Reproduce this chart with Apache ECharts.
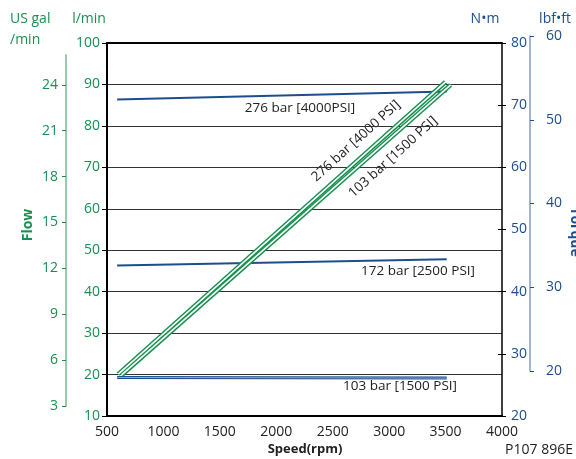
<!DOCTYPE html>
<html>
<head>
<meta charset="utf-8">
<script src="https://cdn.jsdelivr.net/npm/echarts@6/dist/echarts.min.js"></script>
<style>
  html, body { margin: 0; padding: 0; background: #fff; }
  #chart { width: 576px; height: 459px; }
</style>
</head>
<body>
<div id="chart"></div>
<script>
var chart = echarts.init(document.getElementById("chart"));

var green = "#17904f"; //flow colour
var blue = "#1d4d8c"; //torque colour
var font = "'Open Sans', 'Noto Sans', sans-serif";

var speedTicks = [500, 4000, 500]; //min, max, step
var flowTicks = [10, 100, 10]; //l/min
var galTicks = [3, 6, 9, 12, 15, 18, 21, 24]; //US gal/min
var nmTicks = [20, 80, 10]; //N·m
var lbfTicks = [20, 60, 10]; //lbf·ft

//flow curves (rpm, l/min)
var flow276 = [[600, 20.1], [3500, 90.6]];
var flow103 = [[630, 19.9], [3545, 89.9]];

//torque curves (rpm, N·m)
var torque276 = [[590, 70.9], [3510, 72.2]];
var torque172 = [[590, 44.2], [3510, 45.2]];
var torque103 = [[590, 26.2], [3510, 26.1]];

function lineSeries (name, data, yIdx, color, width) {
  return {
    name: name, type: "line", data: data,
    xAxisIndex: 0, yAxisIndex: yIdx,
    symbol: "none", silent: true,
    lineStyle: { color: color, width: width }
  };
}

function txt (text, x, y, opt) {
  opt = opt || {};
  return {
    type: "text", x: x, y: y, rotation: opt.rot || 0, silent: true,
    style: {
      text: text, fill: opt.color || "#222",
      font: (opt.bold ? "bold " : "") + (opt.size || 14) + "px " + font,
      textAlign: opt.align || "center", align: opt.align || "center",
      textVerticalAlign: "middle", verticalAlign: "middle"
    }
  };
}

var option = {
  animation: false,
  backgroundColor: "#fff",
  grid: [
    { left: 107, right: 74, top: 43, bottom: 43, outerBoundsMode: "none" },
    { left: 66, width: 8, top: 55, bottom: 53, outerBoundsMode: "none" },
    { left: 530, width: 7, top: 36, bottom: 88, outerBoundsMode: "none" }
  ],
  xAxis: [
    {
      type: "value", gridIndex: 0, min: speedTicks[0], max: speedTicks[1], interval: speedTicks[2],
      axisLine: { lineStyle: { color: "#000", width: 2 } },
      axisTick: { show: false },
      splitLine: { show: false },
      axisLabel: { color: "#222", fontSize: 14, fontFamily: font, margin: 9,
        formatter: function (v) { return String(v); } }
    },
    {
      type: "value", gridIndex: 0, position: "top", min: speedTicks[0], max: speedTicks[1],
      axisLine: { lineStyle: { color: "#000", width: 2 } },
      axisTick: { show: false }, axisLabel: { show: false }, splitLine: { show: false }
    },
    { type: "value", gridIndex: 1, show: false },
    { type: "value", gridIndex: 2, show: false }
  ],
  yAxis: [
    {
      type: "value", gridIndex: 0, position: "left", min: flowTicks[0], max: flowTicks[1], interval: flowTicks[2],
      axisLine: { show: true, lineStyle: { color: "#000", width: 2 } },
      axisTick: { show: true, length: 5, lineStyle: { color: "#000" } },
      splitLine: { show: true, lineStyle: { color: "#333", width: 1 } },
      axisLabel: { color: green, fontSize: 14, fontFamily: font, margin: 7 }
    },
    {
      type: "value", gridIndex: 0, position: "right", min: nmTicks[0], max: nmTicks[1], interval: nmTicks[2],
      axisLine: { show: true, lineStyle: { color: "#000", width: 1.5 } },
      axisTick: { show: true, length: 4, lineStyle: { color: "#000" } },
      splitLine: { show: false },
      axisLabel: { color: blue, fontSize: 14, fontFamily: font, margin: 9 }
    },
    {
      type: "value", gridIndex: 0, position: "right", min: nmTicks[0], max: nmTicks[1], interval: nmTicks[2],
      axisLine: { show: false },
      axisTick: { show: true, inside: true, length: 4, lineStyle: { color: "#000" } },
      splitLine: { show: false }, axisLabel: { show: false }
    },
    {
      type: "value", gridIndex: 1, position: "left", min: 3, max: 25.95, interval: 3,
      axisLine: { show: true, lineStyle: { color: "#6dbb8f", width: 1.5 } },
      axisTick: { show: true, length: 4, customValues: galTicks, lineStyle: { color: green } },
      splitLine: { show: false },
      axisLabel: { color: green, fontSize: 14, fontFamily: font, margin: 8, customValues: galTicks }
    },
    {
      type: "value", gridIndex: 2, position: "right", min: lbfTicks[0], max: lbfTicks[1], interval: lbfTicks[2],
      axisLine: { show: true, lineStyle: { color: "#7f9dc2", width: 1.5 } },
      axisTick: { show: true, length: 4, lineStyle: { color: blue } },
      splitLine: { show: false },
      axisLabel: { color: blue, fontSize: 14, fontFamily: font, margin: 9 }
    }
  ],
  series: [
    lineSeries("276 bar torque", torque276, 1, blue, 2),
    lineSeries("172 bar torque", torque172, 1, blue, 2),
    lineSeries("103 bar torque", torque103, 1, blue, 3),
    lineSeries("103 bar torque inner", torque103, 1, "#8eaed6", 1),
    lineSeries("276 bar flow", flow276, 0, green, 4.6),
    lineSeries("103 bar flow", flow103, 0, green, 4.6),
    lineSeries("276 bar flow inner", flow276, 0, "#fff", 1.6),
    lineSeries("103 bar flow inner", flow103, 0, "#fff", 1.6)
  ],
  graphic: [
    txt("US gal", 10, 19, { color: green, align: "left" }),
    txt("/min", 10, 40, { color: green, align: "left" }),
    txt("l/min", 89, 19, { color: green }),
    txt("N•m", 485, 19, { color: blue }),
    txt("lbf•ft", 555, 19, { color: blue }),
    txt("Flow", 28, 225, { color: green, bold: true, rot: Math.PI / 2 }),
    txt("Torque", 575, 232, { color: blue, bold: true, rot: -Math.PI / 2 }),
    txt("Speed(rpm)", 305, 449, { bold: true, size: 13 }),
    txt("P107 896E", 539, 450, { size: 14 }),
    txt("276 bar [4000PSI]", 300, 108, { size: 13.5 }),
    txt("172 bar [2500 PSI]", 418, 271, { size: 13.5 }),
    txt("103 bar [1500 PSI]", 400, 386, { size: 13.5 }),
    txt("276 bar [4000 PSI]", 356, 141, { size: 13.5, rot: 42 * Math.PI / 180 }),
    txt("103 bar [1500 PSI]", 393, 157, { size: 13.5, rot: 42 * Math.PI / 180 })
  ]
};

chart.setOption(option);
</script>
</body>
</html>
